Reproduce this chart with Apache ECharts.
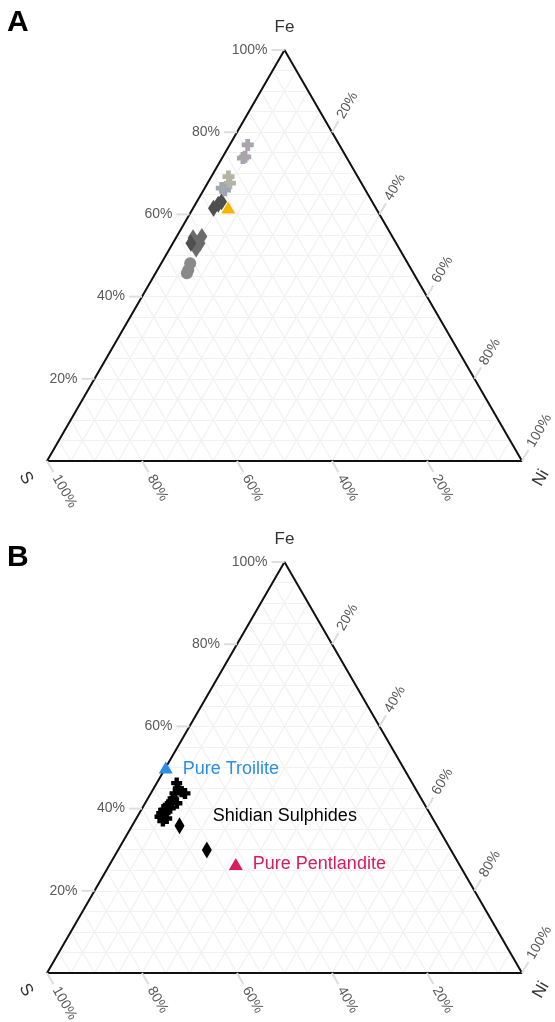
<!DOCTYPE html>
<html>
<head>
<meta charset="utf-8">
<script src="https://cdn.jsdelivr.net/npm/echarts@6/dist/echarts.min.js"></script>
<style>
  html, body { margin: 0; padding: 0; background: #fff; }
  #main { width: 555px; height: 1022px; }
</style>
</head>
<body>
<div id="main"></div>
<script>
// compositions are [Fe, S, Ni] in percent
const vertexTitles = ['Fe', 'S', 'Ni'];
const axisTicks = [20, 40, 60, 80, 100];
const gridBreaks = [5, 10, 15, 20, 25, 30, 35, 40, 45, 50, 55, 60, 65, 70, 75, 80, 85, 90, 95];

// panel A
const aPlusMauve = [[76.9, 19.3, 3.8], [74.0, 21.3, 4.7], [73.7, 21.9, 4.4]];
const aPlusOlive = [[69.2, 27.2, 3.6], [67.6, 27.7, 4.7]];
const aPlusSlate = [[65.9, 29.6, 4.5], [66.4, 30.0, 3.6]];
const aDiamondDark = [[61.5, 34.2, 4.3], [62.5, 32.7, 4.8], [63.1, 31.7, 5.2], [53.0, 43.2, 3.8]];
const aDiamondGrey = [[54.3, 42.1, 3.6], [54.6, 40.1, 5.3], [53.0, 41.3, 5.7], [51.6, 42.8, 5.6]];
const aCircle = [[48.1, 45.8, 6.1], [46.5, 47.0, 6.5], [45.7, 47.7, 6.6]];
const aTriangle = [[61.7, 31.0, 7.3]];

// panel B
const bPlus = [
  [46.2, 49.6, 4.2], [44.9, 49.9, 5.2], [43.7, 49.1, 7.2], [44.1, 49.6, 6.3],
  [43.7, 51.2, 5.1], [42.5, 52.2, 5.3], [41.7, 52.9, 5.4], [41.3, 52.0, 6.7],
  [40.9, 54.0, 5.1], [40.5, 54.5, 5.0], [40.1, 54.0, 5.9], [39.7, 55.6, 4.7],
  [38.9, 55.7, 5.4], [38.9, 56.4, 4.7], [38.0, 57.2, 4.8], [37.6, 56.0, 6.4],
  [37.0, 57.1, 5.9]
];
const bDiamond = [[35.8, 54.2, 10.0], [29.9, 51.4, 18.7]];
const troilite = [[50, 50, 0]];
const pentlandite = [[26.5, 47.0, 26.5]];
const shidianNote = [[38.2, 46.0, 15.8]];

const H = Math.sqrt(3) / 2;
const FONT = '"Liberation Sans", Arial, sans-serif';
const plusPath = 'path://M3,0H7V3H10V7H7V10H3V7H0V3H3Z';

function tern(p) {
  const t = p[0] + p[1] + p[2];
  return [(p[2] + p[0] / 2) / t, p[0] / t * H];
}

function gridLines() {
  const out = [];
  gridBreaks.forEach(b => {
    out.push({ coords: [tern([b, 100 - b, 0]), tern([b, 0, 100 - b])] });
    out.push({ coords: [tern([100 - b, b, 0]), tern([0, b, 100 - b])] });
    out.push({ coords: [tern([100 - b, 0, b]), tern([0, 100 - b, b])] });
  });
  return out;
}

// tick mark + label for one ternary edge
function tickSeries(i, edge) {
  let pos, dir, rot, align;
  if (edge === 'Fe') { pos = t => [t, 100 - t, 0]; dir = [-1, 0]; rot = 0; align = 'right'; }
  else if (edge === 'S') { pos = t => [0, t, 100 - t]; dir = [0.5, H]; rot = -Math.PI / 3; align = 'left'; }
  else { pos = t => [100 - t, 0, t]; dir = [0.5, -H]; rot = Math.PI / 3; align = 'left'; }
  return {
    type: 'custom', xAxisIndex: i, yAxisIndex: i, silent: true, clip: false, z: 4,
    data: axisTicks.map(t => tern(pos(t)).concat([t])),
    renderItem: (params, api) => {
      const c = api.coord([api.value(0), api.value(1)]);
      const L = 13, g = 4;
      return {
        type: 'group',
        children: [
          { type: 'line', shape: { x1: c[0], y1: c[1], x2: c[0] + dir[0] * L, y2: c[1] + dir[1] * L },
            style: { stroke: '#dedede', lineWidth: 2 } },
          { type: 'text', x: c[0] + dir[0] * (L + g), y: c[1] + dir[1] * (L + g), rotation: rot,
            style: { text: api.value(2) + '%', fill: '#5a5a5a', font: '14px ' + FONT,
                     textAlign: align, textVerticalAlign: 'middle' } }
        ]
      };
    }
  };
}

function titleSeries(i) {
  const offs = [[0, -23, 0], [-21, 17, -Math.PI / 3], [19, 17, Math.PI / 3]];
  const pts = [tern([100, 0, 0]), tern([0, 100, 0]), tern([0, 0, 100])];
  return {
    type: 'custom', xAxisIndex: i, yAxisIndex: i, silent: true, clip: false, z: 4,
    data: pts.map((p, k) => [p[0], p[1], k]),
    renderItem: (params, api) => {
      const k = api.value(2), c = api.coord([api.value(0), api.value(1)]), o = offs[k];
      return { type: 'text', x: c[0] + o[0], y: c[1] + o[1], rotation: o[2],
        style: { text: vertexTitles[k], fill: '#333', font: '17px ' + FONT,
                 textAlign: 'center', textVerticalAlign: 'middle' } };
    }
  };
}

function frame(i) {
  return [
    { type: 'lines', coordinateSystem: 'cartesian2d', xAxisIndex: i, yAxisIndex: i, silent: true, z: 1,
      data: gridLines(), lineStyle: { color: '#f1f1f1', width: 1.2, opacity: 1 } },
    { type: 'line', xAxisIndex: i, yAxisIndex: i, silent: true, clip: false, z: 3, symbol: 'none',
      data: [tern([0, 100, 0]), tern([0, 0, 100]), tern([100, 0, 0]), tern([0, 100, 0])],
      lineStyle: { color: '#111', width: 2 } },
    tickSeries(i, 'Fe'), tickSeries(i, 'S'), tickSeries(i, 'Ni'), titleSeries(i)
  ];
}

function pts(i, arr, symbol, size, color, extra) {
  return Object.assign({
    type: 'scatter', xAxisIndex: i, yAxisIndex: i, z: 5, clip: false,
    symbol: symbol, symbolSize: size, data: arr.map(tern),
    itemStyle: { color: color, opacity: 1 }
  }, extra || {});
}

const chart = echarts.init(document.getElementById('main'), null, { renderer: 'canvas' });
chart.setOption({
  animation: false,
  backgroundColor: '#fff',
  grid: [
    { left: 47, top: 50, width: 475, height: 411 },
    { left: 47, top: 562, width: 475, height: 411 }
  ],
  xAxis: [0, 1].map(i => ({ gridIndex: i, type: 'value', min: 0, max: 1, show: false })),
  yAxis: [0, 1].map(i => ({ gridIndex: i, type: 'value', min: 0, max: H, show: false })),
  graphic: [
    { type: 'text', left: 7, top: 8, style: { text: 'A', font: 'bold 30px ' + FONT, fill: '#000' } },
    { type: 'text', left: 7, top: 543, style: { text: 'B', font: 'bold 30px ' + FONT, fill: '#000' } }
  ],
  series: [].concat(
    frame(0),
    [
      pts(0, aCircle, 'circle', 12, '#8a8a8a'),
      pts(0, aDiamondGrey, 'diamond', [11, 17], '#6b6b6b'),
      pts(0, aDiamondDark, 'diamond', [11, 17], '#4f4f4f'),
      pts(0, aPlusMauve, plusPath, 12, '#aaa4ad'),
      pts(0, aPlusOlive, plusPath, 12, '#b3b4a6'),
      pts(0, aPlusSlate, plusPath, 12, '#a0a7ae'),
      pts(0, aTriangle, 'triangle', [14, 12], '#f5b400')
    ],
    frame(1),
    [
      pts(1, bPlus, plusPath, 11, '#000'),
      pts(1, bDiamond, 'diamond', [10, 17], '#000'),
      pts(1, troilite, 'triangle', [14, 12], '#2d8ee5', {
        label: { show: true, position: 'right', distance: 10, formatter: 'Pure Troilite',
                 color: '#2d8ee5', fontSize: 18, fontFamily: FONT, offset: [0, 2] } }),
      pts(1, pentlandite, 'triangle', [14, 12], '#d81b60', {
        label: { show: true, position: 'right', distance: 10, formatter: 'Pure Pentlandite',
                 color: '#d81b60', fontSize: 18, fontFamily: FONT } }),
      pts(1, shidianNote, 'circle', 0, '#000', {
        label: { show: true, position: 'right', distance: 0, formatter: 'Shidian Sulphides',
                 color: '#000', fontSize: 18, fontFamily: FONT } })
    ]
  )
});
</script>
</body>
</html>
